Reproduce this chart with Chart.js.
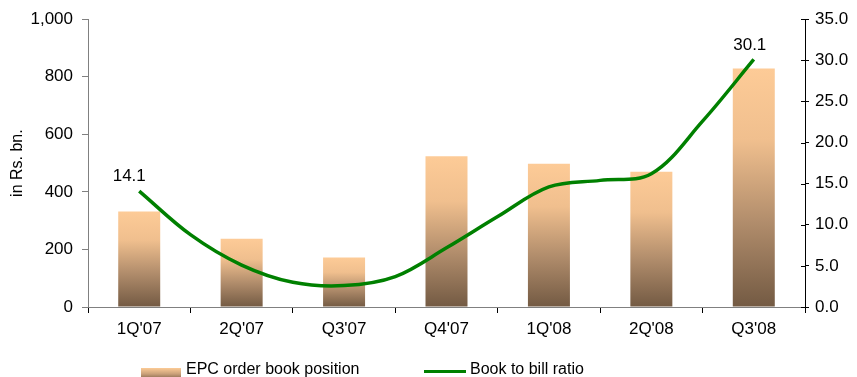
<!DOCTYPE html>
<html>
<head>
<meta charset="utf-8">
<script src="https://cdn.jsdelivr.net/npm/chart.js@4.4.0/dist/chart.umd.min.js"></script>
<style>
    body { margin: 0; background: #fff; font-family: "Liberation Sans", Arial, sans-serif; }
    #wrap { position: relative; width: 857px; height: 377px; overflow: hidden; }
    #legend { position: absolute; left: 0; top: 359px; width: 857px; height: 20px; font-size: 16px; color: #000; }
    .item { position: absolute; top: 0; display: flex; align-items: center; height: 20px; }
    .swatch-bar { width: 40px; height: 12px; margin: 10px 5px 0 0; background: linear-gradient(#fccb96, #c9a079 50%, #765b44); }
    .swatch-line { width: 42px; height: 0; border-top: 3px solid #008000; margin: 4px 4px 0 0; }
</style>
</head>
<body>
<div id="wrap">
    <canvas id="bookChart" width="857" height="377"></canvas>
    <div id="legend">
        <div class="item" style="left:141px"><span class="swatch-bar"></span>EPC order book position</div>
        <div class="item" style="left:424px"><span class="swatch-line"></span>Book to bill ratio</div>
    </div>
</div>
<script>
    // --- Data ---
    const quarters = ["1Q'07", "2Q'07", "Q3'07", "Q4'07", "1Q'08", "2Q'08", "Q3'08"];
    const orderBook = [332, 237, 172, 524, 498, 470, 829];

    // book to bill ratio is plotted at every half quarter
    const ratioPos = [0, 0.5, 1, 1.5, 2, 2.5, 3, 3.5, 4, 4.5, 5, 5.5, 6];
    const ratioValues = [14.1, 8.8, 5.1, 3.0, 2.6, 3.7, 7.2, 11.0, 14.6, 15.4, 16.2, 22.6, 30.1];

    const leftTicks = [0, 200, 400, 600, 800, 1000];
    const rightTicks = [0, 5, 10, 15, 20, 25, 30, 35];

    const FONT = "'Liberation Sans', Arial, sans-serif";

    // gradient for each bar, from its top down to the base
    function barGradient(context) {
        const chart = context.chart;
        const yScale = chart.scales.y;
        if (!chart.chartArea || !yScale) return '#d9ad82';
        const top = yScale.getPixelForValue(context.raw);
        const bottom = yScale.getPixelForValue(0);
        const g = chart.ctx.createLinearGradient(0, top, 0, bottom);
        g.addColorStop(0, '#fdcb97');
        g.addColorStop(0.3, '#f0bf8e');
        g.addColorStop(0.65, '#b08c6b');
        g.addColorStop(1, '#735a43');
        return g;
    }

    // value labels on the first and last point of the ratio line
    const labelShift = [-10, -4];
    const endLabels = {
        id: 'endLabels',
        afterDatasetsDraw(chart) {
            const meta = chart.getDatasetMeta(1);
            const ctx = chart.ctx;
            ctx.save();
            ctx.font = '17px ' + FONT;
            ctx.fillStyle = '#000';
            ctx.textAlign = 'center';
            ctx.textBaseline = 'bottom';
            [0, meta.data.length - 1].forEach((i, k) => {
                const pt = meta.data[i];
                ctx.fillText(ratioValues[i].toFixed(1), pt.x + labelShift[k], pt.y - 6);
            });
            ctx.restore();
        }
    };

    // right axis ticks cross the axis line
    const crossTicks = {
        id: 'crossTicks',
        afterDraw(chart) {
            const s = chart.scales.y1;
            const ctx = chart.ctx;
            ctx.save();
            ctx.strokeStyle = '#000';
            ctx.lineWidth = 1;
            rightTicks.forEach(v => {
                const y = Math.round(s.getPixelForValue(v)) + 0.5;
                ctx.beginPath();
                ctx.moveTo(s.left - 4, y);
                ctx.lineTo(s.left, y);
                ctx.stroke();
            });
            ctx.restore();
        }
    };

    const ctx = document.getElementById('bookChart').getContext('2d');
    new Chart(ctx, {
        type: 'bar',
        data: {
            labels: quarters,
            datasets: [{
                label: 'EPC order book position',
                data: orderBook,
                backgroundColor: barGradient,
                borderWidth: 0,
                grouped: false,
                barPercentage: 0.41,
                categoryPercentage: 1,
                xAxisID: 'x',
                yAxisID: 'y',
                order: 2
            }, {
                type: 'line',
                label: 'Book to bill ratio',
                data: ratioPos.map((p, i) => ({ x: p, y: ratioValues[i] })),
                borderColor: '#008000',
                borderWidth: 3.5,
                pointRadius: 0,
                tension: 0.35,
                fill: false,
                xAxisID: 'x2',
                yAxisID: 'y1',
                order: 1
            }]
        },
        options: {
            responsive: false,
            animation: false,
            layout: { padding: { top: 17, right: 0, left: 0, bottom: 0 } },
            plugins: {
                legend: { display: false },
                tooltip: { enabled: false }
            },
            scales: {
                x: {
                    offset: true,
                    afterFit: s => { s.height = 70; },
                    border: { color: '#808080', width: 1 },
                    grid: { drawOnChartArea: false, offset: true, tickLength: 6, color: '#000' },
                    ticks: { color: '#000', padding: 6, font: { family: FONT, size: 17 } }
                },
                x2: {
                    type: 'linear',
                    position: 'bottom',
                    offset: false,
                    min: -0.5,
                    max: 6.5,
                    afterFit: s => { s.height = 0; },
                    border: { display: false },
                    grid: { display: false, offset: false },
                    ticks: { display: false }
                },
                y: {
                    position: 'left',
                    min: 0,
                    max: 1000,
                    afterFit: s => { s.width = 88; },
                    afterBuildTicks: s => { s.ticks = leftTicks.map(v => ({ value: v })); },
                    border: { color: '#808080', width: 1 },
                    grid: { drawOnChartArea: false, tickLength: 6, color: '#808080' },
                    ticks: {
                        color: '#000',
                        padding: 9,
                        font: { family: FONT, size: 17 },
                        callback: v => v.toLocaleString('en-US')
                    },
                    title: {
                        display: true,
                        text: 'in Rs. bn.',
                        color: '#000',
                        padding: { top: 8, bottom: 0 },
                        font: { family: FONT, size: 16 }
                    }
                },
                y1: {
                    position: 'right',
                    min: 0,
                    max: 35,
                    afterFit: s => { s.width = 52; },
                    afterBuildTicks: s => { s.ticks = rightTicks.map(v => ({ value: v })); },
                    border: { color: '#000', width: 1 },
                    grid: { drawOnChartArea: false, tickLength: 4, color: '#000' },
                    ticks: {
                        color: '#000',
                        padding: 6,
                        font: { family: FONT, size: 17 },
                        callback: v => v.toFixed(1)
                    }
                }
            }
        },
        plugins: [endLabels, crossTicks]
    });
</script>
</body>
</html>
